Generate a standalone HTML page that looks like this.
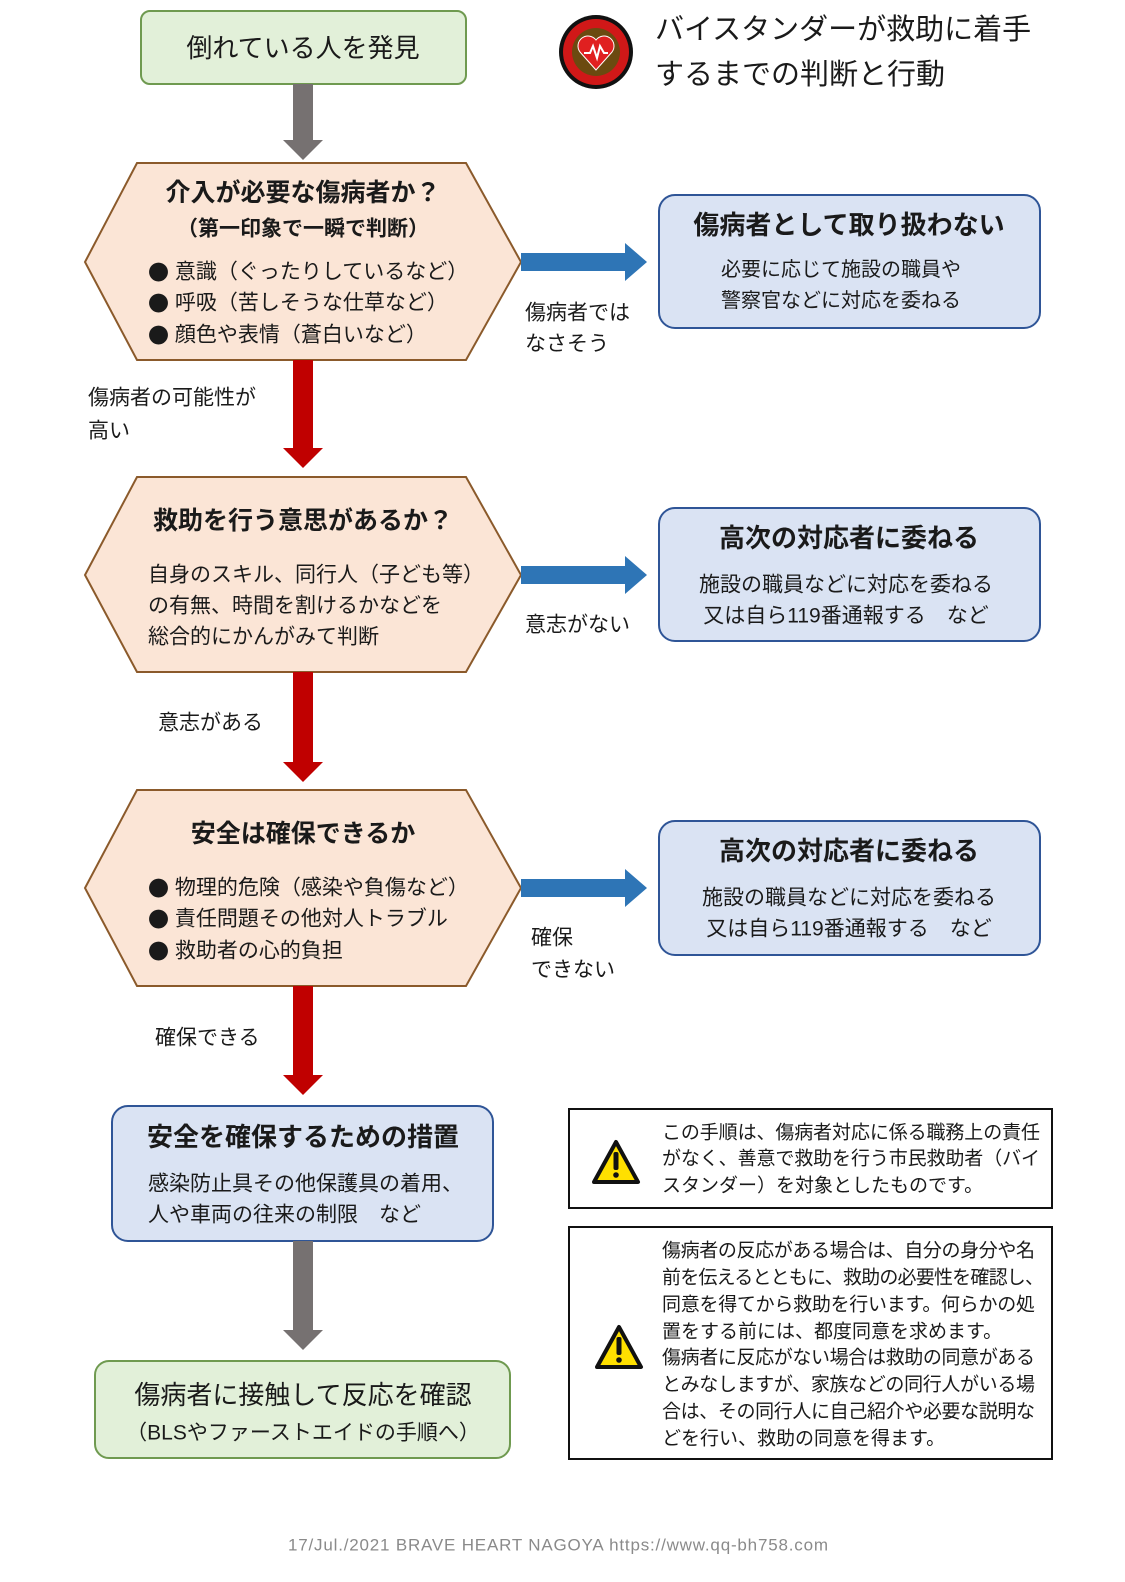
<!DOCTYPE html>
<html><head><meta charset="utf-8"><style>
html,body{margin:0;padding:0;background:#fff;}
svg{display:block;}
text{font-family:"Liberation Sans","Noto Sans CJK JP",sans-serif;fill:#1a1a1a;dominant-baseline:central;}
.b{font-weight:bold;}
.bl{font-family:"Noto Sans CJK JP",sans-serif;}
</style></head><body>
<svg width="1125" height="1582" viewBox="0 0 1125 1582" xmlns="http://www.w3.org/2000/svg">
<rect x="141" y="11" width="325" height="73" rx="9" fill="#e2f0d9" stroke="#6f9a50" stroke-width="2"/>
<text x="303" y="48" font-size="26" text-anchor="middle">倒れている人を発見</text>
<rect x="293" y="84" width="20" height="58" fill="#767171"/>
<polygon points="283,140 323,140 303,160" fill="#767171"/>
<circle cx="596" cy="52" r="37" fill="#111"/>
<circle cx="596" cy="52" r="33" fill="#d01818"/>
<circle cx="596" cy="52" r="24" fill="#6b4a10"/>
<path d="M596,70 L580,52 A9,9 0 0 1 596,40 A9,9 0 0 1 612,52 Z" fill="#e02020" stroke="#fff" stroke-width="1"/>
<polyline points="584,53 590,53 593,46 597,58 600,46 604,53 608,53" fill="none" stroke="#fff" stroke-width="2"/>
<text x="655" y="30" font-size="29">バイスタンダーが救助に着手</text>
<text x="655" y="75" font-size="29">するまでの判断と行動</text>

<polygon points="137,163 466,163 521,262 466,360 137,360 85,262" fill="#fbe5d6" stroke="#8b5a2b" stroke-width="2"/>
<text x="303" y="193" font-size="25" class="b" text-anchor="middle">介入が必要な傷病者か？</text>
<text x="303" y="229" font-size="21" class="b" text-anchor="middle">（第一印象で一瞬で判断）</text>
<text x="148" y="272" font-size="21"><tspan class="bl">●</tspan> 意識（ぐったりしているなど）</text>
<text x="148" y="303" font-size="21"><tspan class="bl">●</tspan> 呼吸（苦しそうな仕草など）</text>
<text x="148" y="335" font-size="21"><tspan class="bl">●</tspan> 顔色や表情（蒼白いなど）</text>
<rect x="521" y="253" width="106" height="18" fill="#2e75b6"/>
<polygon points="625,243 647,262 625,281" fill="#2e75b6"/>
<text x="525" y="313" font-size="21">傷病者では</text>
<text x="525" y="344" font-size="21">なさそう</text>
<rect x="659" y="195" width="381" height="133" rx="16" fill="#dae3f3" stroke="#2f5597" stroke-width="2"/>
<text x="849" y="225" font-size="26" class="b" text-anchor="middle">傷病者として取り扱わない</text>
<text x="841" y="270" font-size="20" text-anchor="middle">必要に応じて施設の職員や</text>
<text x="841" y="301" font-size="20" text-anchor="middle">警察官などに対応を委ねる</text>
<rect x="293" y="360" width="20" height="90" fill="#c00000"/>
<polygon points="283,448 323,448 303,468" fill="#c00000"/>
<text x="88" y="398" font-size="21">傷病者の可能性が</text>
<text x="88" y="431" font-size="21">高い</text>

<polygon points="137,477 466,477 521,575 466,672 137,672 85,575" fill="#fbe5d6" stroke="#8b5a2b" stroke-width="2"/>
<text x="303" y="521" font-size="25" class="b" text-anchor="middle">救助を行う意思があるか？</text>
<text x="148" y="575" font-size="21">自身のスキル、同行人（子ども等）</text>
<text x="148" y="606" font-size="21">の有無、時間を割けるかなどを</text>
<text x="148" y="637" font-size="21">総合的にかんがみて判断</text>
<rect x="521" y="566" width="106" height="18" fill="#2e75b6"/>
<polygon points="625,556 647,575 625,594" fill="#2e75b6"/>
<text x="525" y="625" font-size="21">意志がない</text>
<rect x="659" y="508" width="381" height="133" rx="16" fill="#dae3f3" stroke="#2f5597" stroke-width="2"/>
<text x="849" y="538" font-size="26" class="b" text-anchor="middle">高次の対応者に委ねる</text>
<text x="846" y="585" font-size="21" text-anchor="middle">施設の職員などに対応を委ねる</text>
<text x="846" y="616" font-size="21" text-anchor="middle">又は自ら119番通報する　など</text>
<rect x="293" y="672" width="20" height="92" fill="#c00000"/>
<polygon points="283,762 323,762 303,782" fill="#c00000"/>
<text x="158" y="723" font-size="21">意志がある</text>

<polygon points="137,790 466,790 521,888 466,986 137,986 85,888" fill="#fbe5d6" stroke="#8b5a2b" stroke-width="2"/>
<text x="303" y="834" font-size="25" class="b" text-anchor="middle">安全は確保できるか</text>
<text x="148" y="888" font-size="21"><tspan class="bl">●</tspan> 物理的危険（感染や負傷など）</text>
<text x="148" y="919" font-size="21"><tspan class="bl">●</tspan> 責任問題その他対人トラブル</text>
<text x="148" y="951" font-size="21"><tspan class="bl">●</tspan> 救助者の心的負担</text>
<rect x="521" y="879" width="106" height="18" fill="#2e75b6"/>
<polygon points="625,869 647,888 625,907" fill="#2e75b6"/>
<text x="531" y="938" font-size="21">確保</text>
<text x="531" y="970" font-size="21">できない</text>
<rect x="659" y="821" width="381" height="134" rx="16" fill="#dae3f3" stroke="#2f5597" stroke-width="2"/>
<text x="849" y="851" font-size="26" class="b" text-anchor="middle">高次の対応者に委ねる</text>
<text x="849" y="898" font-size="21" text-anchor="middle">施設の職員などに対応を委ねる</text>
<text x="849" y="929" font-size="21" text-anchor="middle">又は自ら119番通報する　など</text>
<rect x="293" y="986" width="20" height="91" fill="#c00000"/>
<polygon points="283,1075 323,1075 303,1095" fill="#c00000"/>
<text x="155" y="1038" font-size="21">確保できる</text>

<rect x="112" y="1106" width="381" height="135" rx="16" fill="#dae3f3" stroke="#2f5597" stroke-width="2"/>
<text x="303" y="1137" font-size="26" class="b" text-anchor="middle">安全を確保するための措置</text>
<text x="148" y="1184" font-size="21">感染防止具その他保護具の着用、</text>
<text x="148" y="1215" font-size="21">人や車両の往来の制限　など</text>
<rect x="293" y="1241" width="20" height="91" fill="#767171"/>
<polygon points="283,1330 323,1330 303,1350" fill="#767171"/>
<rect x="95" y="1361" width="415" height="97" rx="14" fill="#e2f0d9" stroke="#6f9a50" stroke-width="2"/>
<text x="303" y="1395" font-size="26" text-anchor="middle">傷病者に接触して反応を確認</text>
<text x="303" y="1433" font-size="21" text-anchor="middle">（BLSやファーストエイドの手順へ）</text>

<rect x="569" y="1109" width="483" height="99" fill="#fff" stroke="#111" stroke-width="2"/>
<polygon points="616,1142 638,1182 594,1182" fill="#ffe000" stroke="#111" stroke-width="4" stroke-linejoin="round"/>
<rect x="613.5" y="1152" width="5" height="18" rx="2" fill="#111"/>
<circle cx="616" cy="1175" r="2.8" fill="#111"/>
<text x="662" y="1133" font-size="19" textLength="378">この手順は、傷病者対応に係る職務上の責任</text>
<text x="662" y="1159" font-size="19" textLength="378">がなく、善意で救助を行う市民救助者（バイ</text>
<text x="662" y="1186" font-size="19">スタンダー）を対象としたものです。</text>

<rect x="569" y="1227" width="483" height="232" fill="#fff" stroke="#111" stroke-width="2"/>
<polygon points="619,1327 641,1367 597,1367" fill="#ffe000" stroke="#111" stroke-width="4" stroke-linejoin="round"/>
<rect x="616.5" y="1337" width="5" height="18" rx="2" fill="#111"/>
<circle cx="619" cy="1360" r="2.8" fill="#111"/>
<text x="662" y="1251" font-size="19" textLength="373">傷病者の反応がある場合は、自分の身分や名</text>
<text x="662" y="1278" font-size="19" textLength="382">前を伝えるとともに、救助の必要性を確認し、</text>
<text x="662" y="1305" font-size="19" textLength="373">同意を得てから救助を行います。何らかの処</text>
<text x="662" y="1332" font-size="19">置をする前には、都度同意を求めます。</text>
<text x="662" y="1358" font-size="19" textLength="373">傷病者に反応がない場合は救助の同意がある</text>
<text x="662" y="1385" font-size="19" textLength="373">とみなしますが、家族などの同行人がいる場</text>
<text x="662" y="1412" font-size="19" textLength="373">合は、その同行人に自己紹介や必要な説明な</text>
<text x="662" y="1439" font-size="19">どを行い、救助の同意を得ます。</text>

<text x="558" y="1545" font-size="17" text-anchor="middle" textLength="540" style="fill:#8a8a8a">17/Jul./2021  BRAVE HEART NAGOYA  https://www.qq-bh758.com</text>
</svg>
</body></html>
